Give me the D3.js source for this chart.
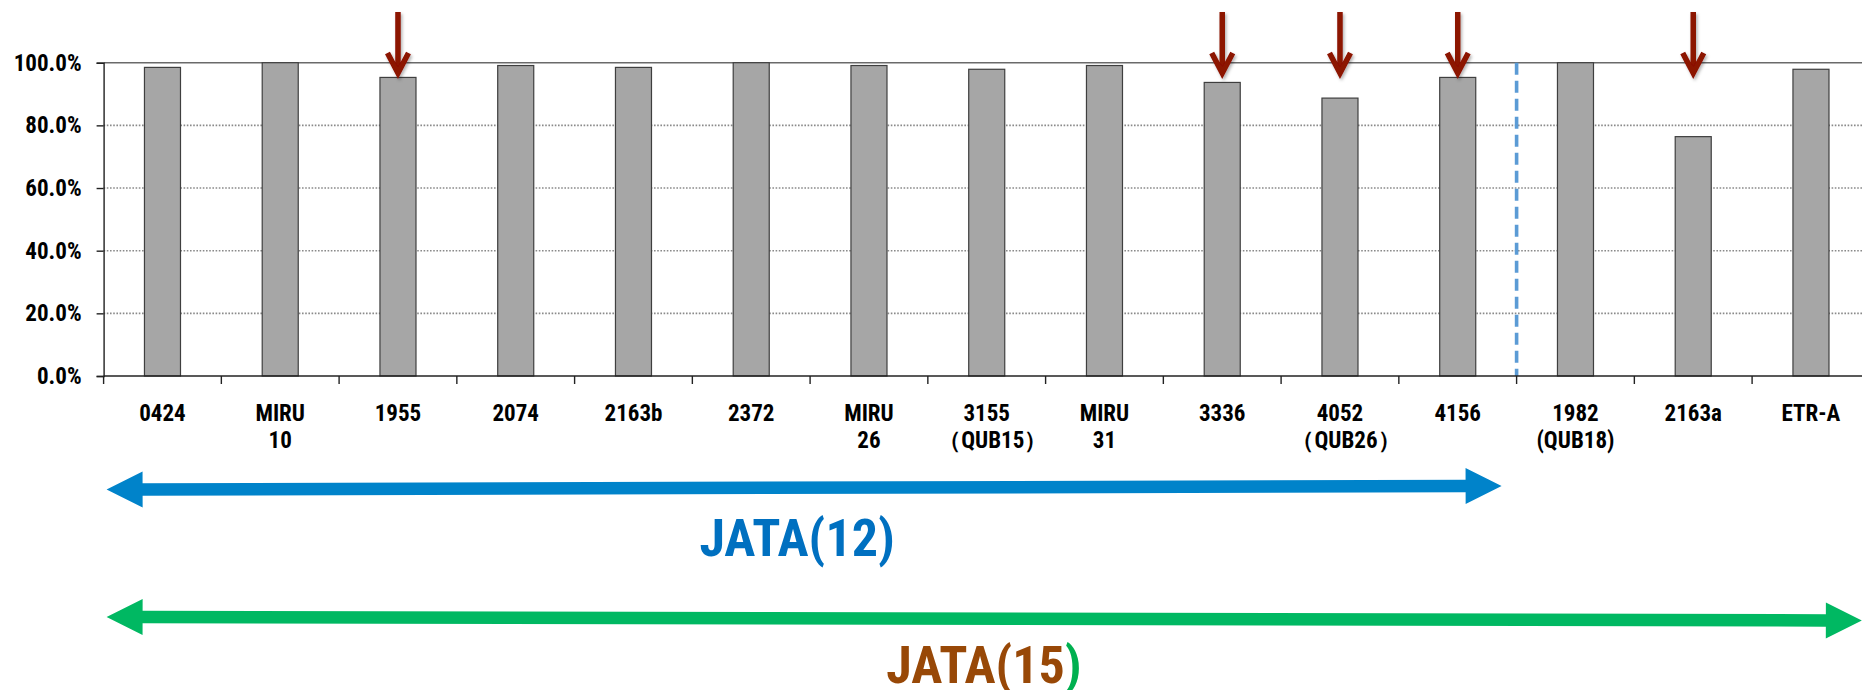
<!DOCTYPE html>
<html>
<head>
<meta charset="utf-8">
<script src="https://cdn.jsdelivr.net/npm/d3@7"></script>
<style>
  html, body { margin: 0; padding: 0; background: #fff; }
  svg { display: block; }
  text { font-family: 'Roboto Condensed', 'Liberation Sans Narrow', 'DejaVu Sans Condensed', sans-serif; font-weight: bold; }
</style>
</head>
<body>
<svg id="chart" width="1862" height="690"></svg>
<script>
// Loci, in the order they are plotted
const loci = ["0424", "MIRU10", "1955", "2074", "2163b", "2372", "MIRU26", "3155",
              "MIRU31", "3336", "4052", "4156", "1982", "2163a", "ETR-A"];
// Tick label text, first and second line
const labelLine1 = ["0424", "MIRU", "1955", "2074", "2163b", "2372", "MIRU", "3155",
                    "MIRU", "3336", "4052", "4156", "1982", "2163a", "ETR-A"];
const labelLine2 = ["", "10", "", "", "", "", "26", "（QUB15）",
                    "31", "", "（QUB26）", "", "(QUB18)", "", ""];
// Rate per locus (%)
const rates = [98.5, 100, 95.3, 99.1, 98.5, 100, 99.1, 97.9, 99.1, 93.7, 88.7, 95.3, 100, 76.4, 97.9];
// Loci flagged with a red arrow
const flagged = ["1955", "3336", "4052", "4156", "2163a"];
// Y axis ticks
const yTicks = [0, 20, 40, 60, 80, 100];
// Locus sets shown by the range arrows
const jata12 = loci.slice(0, 12);
const jata15 = loci.slice(0, 15);

const FONT = "'Roboto Condensed', 'Liberation Sans Narrow', 'DejaVu Sans Condensed', sans-serif";
const svg = d3.select("#chart");
const W = 1862;

const x0 = 103.6, step = 117.75;
const x = d3.scaleBand()
  .domain(loci)
  .range([x0, x0 + step * loci.length])
  .paddingInner(0.694)
  .paddingOuter(0.347);
const y = d3.scaleLinear().domain([0, 100]).range([376, 62.7]);
const edge = i => x0 + i * x.step();

// Grid lines (dotted), 100% drawn solid as the plot's top edge
svg.append("g").selectAll("line")
  .data(yTicks.filter(t => t > 0 && t < 100))
  .join("line")
  .attr("x1", x0).attr("x2", W)
  .attr("y1", d => y(d)).attr("y2", d => y(d))
  .attr("stroke", "#8a8a8a").attr("stroke-width", 1.6)
  .attr("stroke-dasharray", "1.6,1.6");
svg.append("line")
  .attr("x1", x0).attr("x2", W)
  .attr("y1", y(100)).attr("y2", y(100))
  .attr("stroke", "#6a6a6a").attr("stroke-width", 1.6);

// Bars
svg.append("g").selectAll("rect")
  .data(loci)
  .join("rect")
  .attr("x", d => x(d))
  .attr("y", (d, i) => y(rates[i]))
  .attr("width", x.bandwidth())
  .attr("height", (d, i) => y(0) - y(rates[i]))
  .attr("fill", "#a6a6a6")
  .attr("stroke", "#3f3f3f")
  .attr("stroke-width", 1.2);

// Divider between the JATA(12) loci and the extra loci
svg.append("line")
  .attr("x1", edge(jata12.length)).attr("x2", edge(jata12.length))
  .attr("y1", y(100)).attr("y2", y(0))
  .attr("stroke", "#5b9bd5").attr("stroke-width", 3.6)
  .attr("stroke-dasharray", "12,6");

// Y axis
const yAxis = d3.axisLeft(y).tickValues(yTicks)
  .tickFormat(d => d.toFixed(1) + "%").tickSize(7).tickPadding(15);
const gy = svg.append("g").attr("transform", `translate(${x0},0)`).call(yAxis);
gy.select(".domain").attr("stroke", "#222").attr("stroke-width", 1.4);
gy.selectAll(".tick line").attr("stroke", "#222").attr("stroke-width", 1.4);
gy.selectAll(".tick text").attr("font-size", 23).attr("fill", "#000")
  .style("font-family", FONT)
  .style("font-weight", "bold");

// X axis line and boundary ticks
svg.append("line")
  .attr("x1", x0).attr("x2", W)
  .attr("y1", y(0)).attr("y2", y(0))
  .attr("stroke", "#222").attr("stroke-width", 1.6);
svg.append("g").selectAll("line")
  .data(d3.range(loci.length + 1))
  .join("line")
  .attr("x1", d => edge(d)).attr("x2", d => edge(d))
  .attr("y1", y(0)).attr("y2", y(0) + 8)
  .attr("stroke", "#222").attr("stroke-width", 1.4);

// Category labels
const lab = svg.append("g").selectAll("text")
  .data(loci)
  .join("text")
  .attr("x", d => x(d) + x.bandwidth() / 2)
  .attr("text-anchor", "middle")
  .attr("font-size", 23)
  .attr("fill", "#000");
lab.append("tspan").attr("y", 421).text((d, i) => labelLine1[i]);
lab.append("tspan").attr("x", d => x(d) + x.bandwidth() / 2 + 6 * (labelLine2[loci.indexOf(d)].startsWith("（") ? 1 : 0))
  .attr("y", 448)
  .text((d, i) => labelLine2[i]);

// Red arrows over flagged loci
const defs = svg.append("defs");
const sh = defs.append("filter").attr("id", "shadow").attr("x", "-50%").attr("y", "-20%")
  .attr("width", "200%").attr("height", "150%");
sh.append("feDropShadow").attr("dx", 1.5).attr("dy", 2).attr("stdDeviation", 1.8)
  .attr("flood-color", "#000").attr("flood-opacity", 0.3);

const red = svg.append("g").attr("filter", "url(#shadow)").selectAll("g")
  .data(flagged).join("g")
  .attr("transform", d => `translate(${x(d) + x.bandwidth() / 2},0)`);
red.append("line")
  .attr("x1", 0).attr("x2", 0).attr("y1", 12).attr("y2", 72)
  .attr("stroke", "#8c1206").attr("stroke-width", 5.5);
red.append("path")
  .attr("d", "M-10.5,53 L0,73 L10.5,53")
  .attr("fill", "none").attr("stroke", "#8c1206").attr("stroke-width", 5.5)
  .attr("stroke-linejoin", "miter").attr("stroke-linecap", "butt");

// Double-headed range arrow between (xa, ya) and (xb, yb)
function rangeArrow(xa, ya, xb, yb, color, shaft, headLen, headW) {
  const dx = xb - xa, dy = yb - ya, L = Math.hypot(dx, dy);
  const ux = dx / L, uy = dy / L, nx = -uy, ny = ux;
  const p = (t, s) => [xa + ux * t + nx * s, ya + uy * t + ny * s];
  const pts = [
    p(0, 0), p(headLen, headW / 2), p(headLen, shaft / 2), p(L - headLen, shaft / 2),
    p(L - headLen, headW / 2), p(L, 0), p(L - headLen, -headW / 2), p(L - headLen, -shaft / 2),
    p(headLen, -shaft / 2), p(headLen, -headW / 2)
  ];
  svg.append("polygon").attr("points", pts.map(q => q.join(",")).join(" ")).attr("fill", color);
}
rangeArrow(edge(0) + 3, 489.5, edge(jata12.length) - 15, 486, "#0083ca", 12.5, 36, 36);
rangeArrow(edge(0) + 3, 617, edge(jata15.length) - 8, 620.5, "#00b862", 12.5, 36, 36);

// Range captions
svg.append("text")
  .attr("x", (edge(0) + edge(jata12.length)) / 2 - 13)
  .attr("y", 556)
  .attr("text-anchor", "middle")
  .attr("font-size", 52)
  .attr("fill", "#0070c0")
  .style("font-family", FONT)
  .text("JATA(12)");
const t15 = svg.append("text")
  .attr("x", 984)
  .attr("y", 683)
  .attr("text-anchor", "middle")
  .attr("font-size", 52)
  .style("font-family", FONT);
t15.append("tspan").attr("fill", "#984807").text("JATA(15");
t15.append("tspan").attr("fill", "#00b050").text(")");
</script>
</body>
</html>
